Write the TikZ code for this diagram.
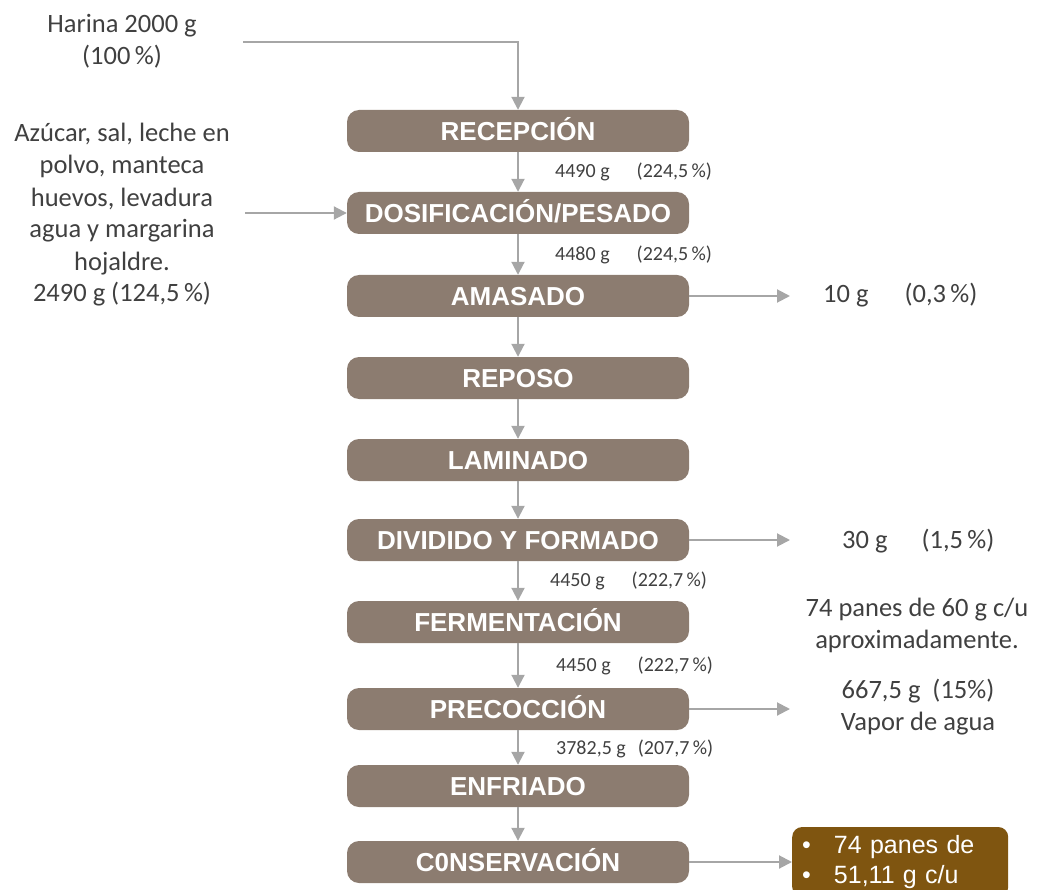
\documentclass[tikz,border=0pt]{standalone}
\usepackage{fontspec}
\setmainfont{Carlito}
\newfontfamily\arialfont{Liberation Sans}
\usetikzlibrary{arrows.meta}
\definecolor{boxfill}{RGB}{140,124,112}
\definecolor{flowgray}{RGB}{166,166,166}
\definecolor{txtgray}{RGB}{64,64,64}
\definecolor{outbrown}{RGB}{127,85,16}
\begin{document}
\begin{tikzpicture}[x=1pt,y=-1pt,
  stepbox/.style={fill=boxfill, rounded corners=12pt, minimum width=342pt, minimum height=42pt,
    inner sep=0pt, text=white, font=\arialfont\bfseries\fontsize{26}{30}\selectfont,
    text height=18.6pt, text depth=0pt},
  flow/.style={draw=flowgray, line width=2pt, -{Triangle[length=13pt,width=13pt]}},
  sidetext/.style={text=txtgray, font=\fontsize{26.5}{32}\selectfont, align=center, inner sep=0pt, anchor=base},
  qtylabel/.style={text=txtgray, font=\fontsize{20}{24}\selectfont, inner sep=0pt, anchor=base west},
  outbox/.style={fill=outbrown, rounded corners=10pt, minimum height=70pt, text width=196pt,
    inner xsep=10pt, inner ysep=0pt, align=left, text=white, font=\arialfont\fontsize{25}{30}\selectfont, anchor=west},
]
\useasboundingbox (0,0) rectangle (1038,890);

% process steps
\node[stepbox] (rec) at (518,131) {RECEPCIÓN};
\node[stepbox] (dos) at (518,213) {DOSIFICACIÓN/PESADO};
\node[stepbox] (ama) at (518,296) {AMASADO};
\node[stepbox] (rep) at (518,378) {REPOSO};
\node[stepbox] (lam) at (518,460) {LAMINADO};
\node[stepbox] (div) at (518,540) {DIVIDIDO Y FORMADO};
\node[stepbox] (fer) at (518,622) {FERMENTACIÓN};
\node[stepbox] (pre) at (518,709) {PRECOCCIÓN};
\node[stepbox] (enf) at (518,786) {ENFRIADO};
\node[stepbox] (con) at (518,862) {C0NSERVACIÓN};

% vertical flow
\foreach \a/\b in {rec/dos, dos/ama, ama/rep, rep/lam, lam/div, div/fer, fer/pre, pre/enf, enf/con}
  \draw[flow] (\a.south) -- (\b.north);

% inputs (anchor base = baseline of last line)
\node[sidetext] (harina) at (122,65) {Harina 2000 g\\(100\,\%)};
\coordinate (hstart) at (243,42);
\draw[flow] (hstart) -| (rec.north);

\node[sidetext] (ing) at (122,302) {Azúcar, sal, leche en\\polvo, manteca\\huevos, levadura\\agua y margarina\\hojaldre.\\2490 g (124,5\,\%)};
\coordinate (istart) at (245,213);
\draw[flow] (istart) -- (dos.west);

% quantity labels
\node[qtylabel] (q1) at (555,178) {4490 g\hspace{27pt}(224,5\,\%)};
\node[qtylabel] (q2) at (555,261) {4480 g\hspace{27pt}(224,5\,\%)};
\node[qtylabel] (q3) at (550,586) {4450 g\hspace{27pt}(222,7\,\%)};
\node[qtylabel] (q4) at (556,671) {4450 g\hspace{27pt}(222,7\,\%)};
\node[qtylabel] (q5) at (556,754) {3782,5 g\hspace{12pt}(207,7\,\%)};

% outputs
\coordinate (o1) at (790,296);
\draw[flow] (ama.east) -- (o1);
\node[sidetext, anchor=base west] (loss1) at (823,303) {10 g\hspace{36pt}(0,3\,\%)};

\coordinate (o2) at (790,540);
\draw[flow] (div.east) -- (o2);
\node[sidetext, anchor=base west] (loss2) at (842,548) {30 g\hspace{34pt}(1,5\,\%)};

\node[sidetext] (panes) at (917,648) {74 panes de 60 g c/u\\aproximadamente.};

\coordinate (o3) at (790,709);
\draw[flow] (pre.east) -- (o3);
\node[sidetext] (vapor) at (918,730) {667,5 g\ \ (15\%)\\Vapor de agua};

\node[outbox] (out) at (792,862) {\textbullet\hspace{23pt}74 panes de\\\textbullet\hspace{23pt}51,11 g c/u};
\draw[flow] (con.east) -- (out.west);
\end{tikzpicture}
\end{document}
